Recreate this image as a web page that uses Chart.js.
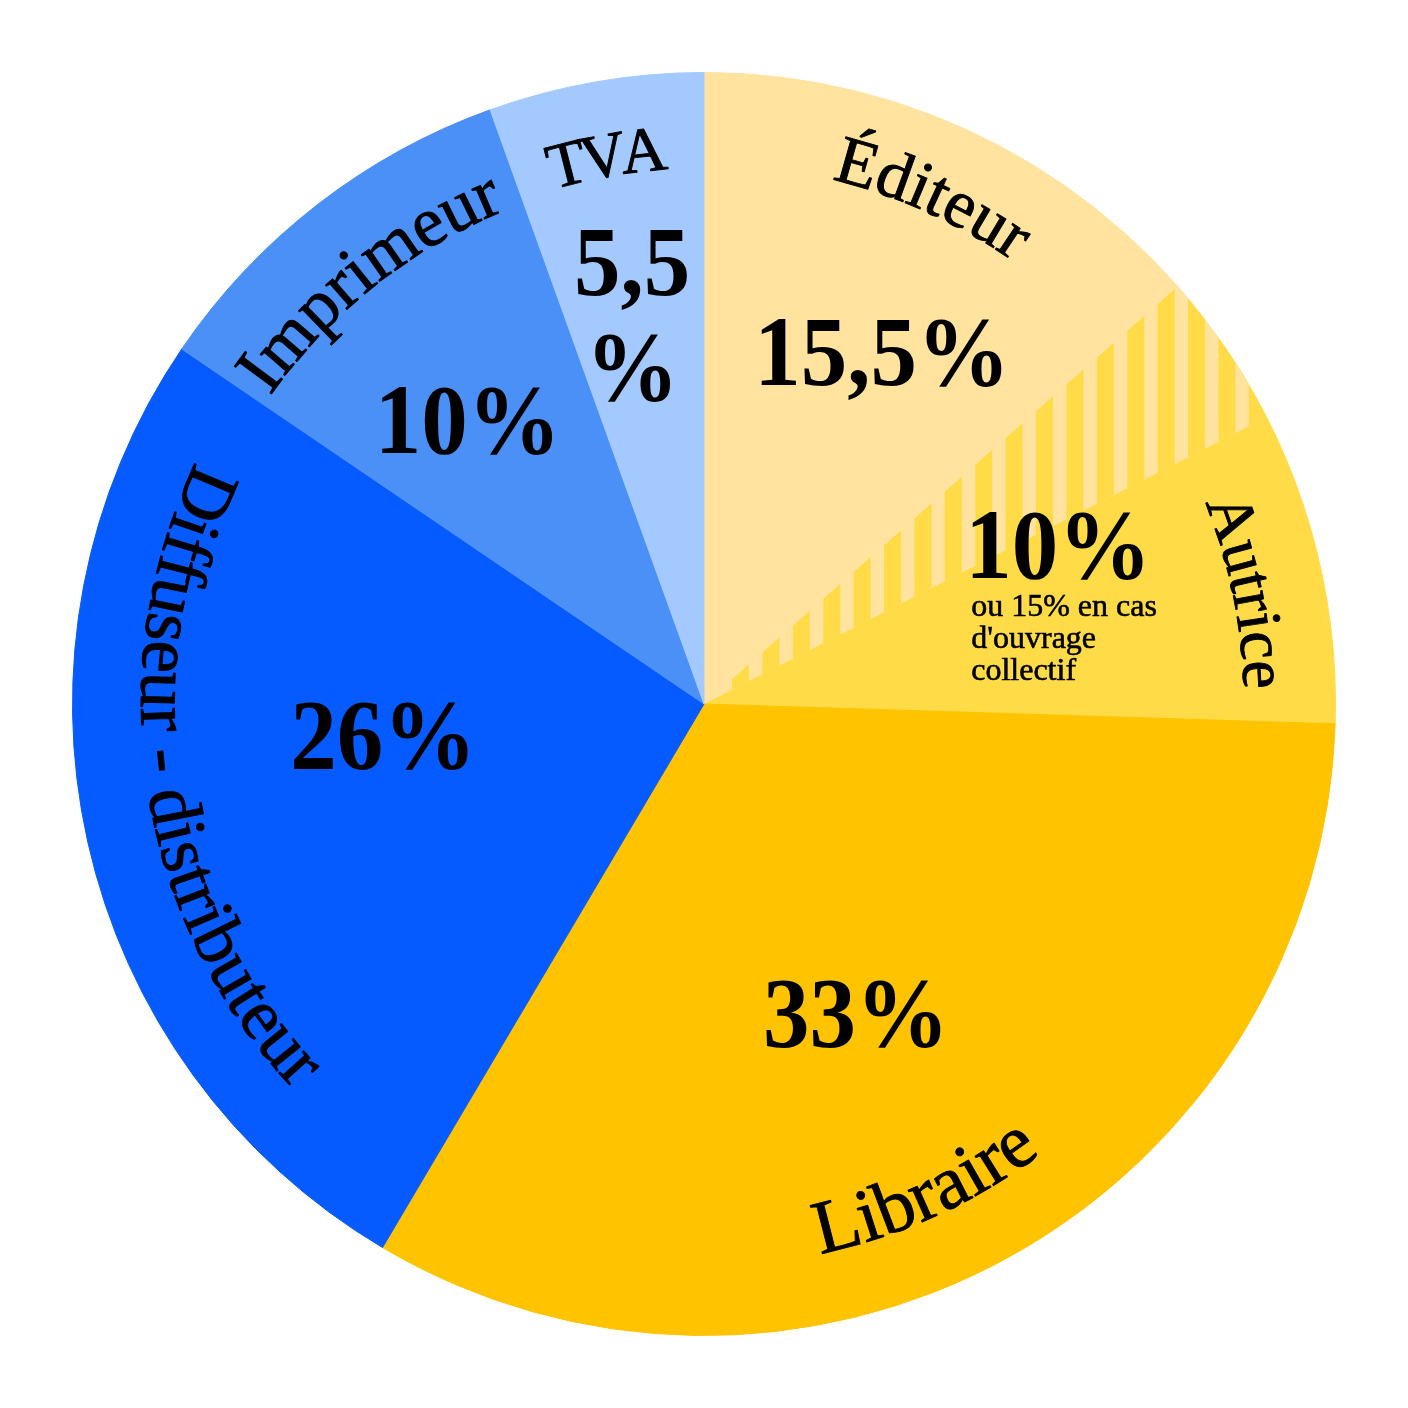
<!DOCTYPE html>
<html lang="fr">
<head>
<meta charset="utf-8">
<title>Répartition du prix d'un livre</title>
<script src="https://cdn.jsdelivr.net/npm/chart.js@4.4.1/dist/chart.umd.min.js"></script>
<style>
  html, body { margin: 0; padding: 0; background: #ffffff; }
  canvas { display: block; }
</style>
</head>
<body>
<canvas id="chart" width="1408" height="1408"></canvas>
<script>
// --- Data -------------------------------------------------------------
const categories = ['Éditeur', 'Autrice', 'Libraire', 'Diffuseur - distributeur', 'Imprimeur', 'TVA'];
const shares = [15.5, 10, 33, 26, 10, 5.5];            // % of the cover price
const autriceNote = ["ou 15% en cas", "d'ouvrage", "collectif"];
const hatchSpan = 4;                                    // % of the circle hatched around Éditeur / Autrice

// --- Styles -----------------------------------------------------------
const sliceColors = ['#FFE39E', '#FFDC47', '#FFC300', '#055BFF', '#4A90F7', '#A3C9FF'];
const SERIF = '"Liberation Serif", "Times New Roman", serif';

// name labels written along the rim: angle offset from slice middle (deg), baseline radius,
// size, extra letter tracking (px), orientation
const nameLayout = [
  { shift: -3.6, r: 540, size: 68, track: 0,  inward: false },
  { shift:  4.5, r: 540, size: 64, track: 0,  inward: false },
  { shift:  4.4, r: 562, size: 76, track: 0,  inward: true  },
  { shift:  3.7, r: 563, size: 73, track: 0,  inward: true  },
  { shift: -0.5, r: 532, size: 71, track: 0,  inward: false },
  { shift: -0.6, r: 536, size: 64, track: -7, inward: false }
];
// value labels: angle offset from slice middle (deg), radius of last baseline
const valueLayout = [
  { shift:  1.3, r: 365 },
  { shift: -3.4, r: 376 },
  { shift:  4.8, r: 374 },
  { shift:  1.3, r: 327 },
  { shift: -5.4, r: 345 },
  { shift: -3.4, r: 312, split: true }
];
const VALUE_FONT = 'bold 100px ' + SERIF;
const VALUE_SCALE_X = 0.93;

const fmt = v => String(v).replace('.', ',');

function drawArcText(ctx, text, cx, cy, r, theta, font, inward, track) {
  ctx.save();
  ctx.font = font;
  ctx.textAlign = 'center';
  ctx.textBaseline = 'alphabetic';
  ctx.fillStyle = '#000';
  ctx.strokeStyle = '#000';
  ctx.lineWidth = 0.9;
  ctx.lineJoin = 'round';
  const chars = Array.from(text);
  const total = ctx.measureText(text).width + track * (chars.length - 1);
  chars.forEach((ch, i) => {
    const left = ctx.measureText(chars.slice(0, i).join('')).width + track * i;
    const w = ctx.measureText(ch).width;
    const along = (left + w / 2) / r;
    const a = inward ? theta + total / (2 * r) - along : theta - total / (2 * r) + along;
    ctx.save();
    ctx.translate(cx + r * Math.cos(a), cy + r * Math.sin(a));
    ctx.rotate(inward ? a - Math.PI / 2 : a + Math.PI / 2);
    ctx.fillText(ch, 0, 0);
    ctx.strokeText(ch, 0, 0);
    ctx.restore();
  });
  ctx.restore();
}

const piePainter = {
  id: 'piePainter',
  afterDatasetsDraw(chart) {
    const ctx = chart.ctx;
    const arcs = chart.getDatasetMeta(0).data;
    const total = shares.reduce((a, b) => a + b, 0);

    // hatched wedge straddling the Éditeur / Autrice border
    const ed = arcs[0].getProps(['x', 'y', 'endAngle', 'outerRadius'], true);
    const half = (hatchSpan / 2) / total * Math.PI * 2;
    ctx.save();
    ctx.beginPath();
    ctx.moveTo(ed.x, ed.y);
    ctx.arc(ed.x, ed.y, ed.outerRadius, ed.endAngle - half, ed.endAngle + half);
    ctx.closePath();
    ctx.fillStyle = sliceColors[0];
    ctx.fill();
    ctx.clip();
    ctx.fillStyle = sliceColors[1];
    const period = 30.4, dark = 17, phase = 28;
    for (let x = ed.x + phase; x < ed.x + ed.outerRadius; x += period) {
      ctx.fillRect(x, ed.y - ed.outerRadius, dark, ed.outerRadius + 2);
    }
    ctx.restore();

    // names along the rim and values inside each slice
    arcs.forEach((arc, i) => {
      const p = arc.getProps(['x', 'y', 'startAngle', 'endAngle'], true);
      const mid = (p.startAngle + p.endAngle) / 2;
      const nl = nameLayout[i];
      drawArcText(ctx, categories[i], p.x, p.y, nl.r, mid + nl.shift * Math.PI / 180,
                  `${nl.size}px ${SERIF}`, nl.inward, nl.track);

      const vl = valueLayout[i];
      const a = mid + vl.shift * Math.PI / 180;
      const vx = p.x + vl.r * Math.cos(a);
      const vy = p.y + vl.r * Math.sin(a);
      const lines = vl.split ? [fmt(shares[i]), '%'] : [fmt(shares[i]) + '%'];
      ctx.save();
      ctx.font = VALUE_FONT;
      ctx.fillStyle = '#000';
      ctx.textAlign = 'center';
      ctx.textBaseline = 'alphabetic';
      lines.forEach((ln, k) => {
        ctx.save();
        ctx.translate(vx, vy - (lines.length - 1 - k) * 105);
        ctx.scale(VALUE_SCALE_X, 1);
        ctx.fillText(ln, 0, 0);
        ctx.restore();
      });
      if (i === 1) {
        const w = ctx.measureText(lines[0]).width * VALUE_SCALE_X;
        ctx.font = `32px ${SERIF}`;
        ctx.textAlign = 'left';
        ctx.strokeStyle = '#000';
        ctx.lineWidth = 0.6;
        autriceNote.forEach((ln, k) => {
          const nx = vx - w / 2 + 6, ny = vy + 38 + k * 32;
          ctx.fillText(ln, nx, ny);
          ctx.strokeText(ln, nx, ny);
        });
      }
      ctx.restore();
    });
  }
};

new Chart(document.getElementById('chart'), {
  type: 'pie',
  data: {
    labels: categories,
    datasets: [{
      data: shares,
      backgroundColor: sliceColors,
      borderColor: sliceColors,
      borderWidth: 1
    }]
  },
  options: {
    responsive: false,
    animation: false,
    devicePixelRatio: 1,
    layout: { padding: 72 },
    plugins: { legend: { display: false }, tooltip: { enabled: false } }
  },
  plugins: [piePainter]
});
</script>
</body>
</html>
